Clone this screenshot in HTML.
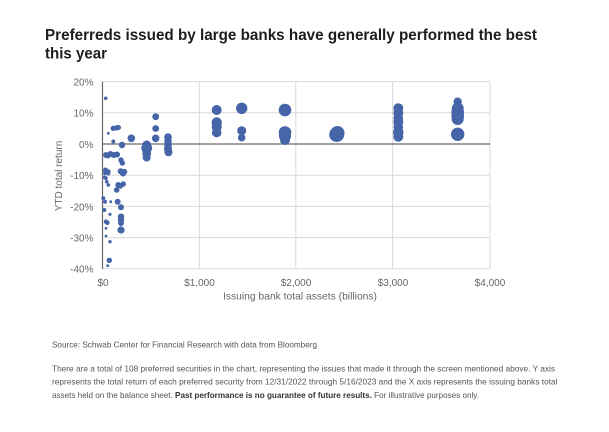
<!DOCTYPE html>
<html><head><meta charset="utf-8">
<style>
html,body{margin:0;padding:0;background:#fff;}
svg{display:block;}
text{font-family:"Liberation Sans",Arial,sans-serif;}
</style></head>
<body>
<svg width="609" height="432" viewBox="0 0 609 432" xmlns="http://www.w3.org/2000/svg">
<rect width="609" height="432" fill="#fff"/>
<!-- Title -->
<text x="45" y="40" font-size="15.5" font-weight="bold" fill="#1e1e1e" textLength="492" lengthAdjust="spacingAndGlyphs">Preferreds issued by large banks have generally performed the best</text>
<text x="45" y="58.5" font-size="15.5" font-weight="bold" fill="#1e1e1e" textLength="62" lengthAdjust="spacingAndGlyphs">this year</text>

<!-- gridlines -->
<g stroke="#d9d9d9" stroke-width="1">
<line x1="102.5" y1="81.6" x2="490" y2="81.6"/>
<line x1="102.5" y1="112.8" x2="490" y2="112.8"/>
<line x1="102.5" y1="175.2" x2="490" y2="175.2"/>
<line x1="102.5" y1="206.4" x2="490" y2="206.4"/>
<line x1="102.5" y1="237.6" x2="490" y2="237.6"/>
<line x1="102.5" y1="268.8" x2="490" y2="268.8"/>
<line x1="199.3" y1="81.6" x2="199.3" y2="268.8"/>
<line x1="295.8" y1="81.6" x2="295.8" y2="268.8"/>
<line x1="392.6" y1="81.6" x2="392.6" y2="268.8"/>
<line x1="490" y1="81.6" x2="490" y2="268.8"/>
</g>
<line x1="102.5" y1="144" x2="490" y2="144" stroke="#6a6a6a" stroke-width="1.2"/>
<line x1="102.5" y1="81.6" x2="102.5" y2="269" stroke="#6a6a6a" stroke-width="1.2"/>

<!-- y tick labels -->
<g font-size="10" fill="#666" text-anchor="end">
<text x="93.5" y="85.5">20%</text>
<text x="93.5" y="116.7">10%</text>
<text x="93.5" y="147.9">0%</text>
<text x="93.5" y="179.1">-10%</text>
<text x="93.5" y="210.3">-20%</text>
<text x="93.5" y="241.5">-30%</text>
<text x="93.5" y="272.7">-40%</text>
</g>
<!-- x tick labels -->
<g font-size="10" fill="#666" text-anchor="middle">
<text x="103" y="285.8">$0</text>
<text x="199.5" y="285.8">$1,000</text>
<text x="296" y="285.8">$2,000</text>
<text x="393" y="285.8">$3,000</text>
<text x="490" y="285.8">$4,000</text>
</g>
<text x="223" y="299.3" font-size="10" fill="#666" textLength="154" lengthAdjust="spacingAndGlyphs">Issuing bank total assets (billions)</text>
<text transform="translate(62,176) rotate(-90)" font-size="10" fill="#666" text-anchor="middle">YTD total return</text>

<!-- dots -->
<g fill="#4565a8">
<circle cx="105.7" cy="98.3" r="1.8"/>
<circle cx="113.3" cy="128.3" r="2.7"/>
<circle cx="116.7" cy="127.8" r="2.7"/>
<circle cx="118.5" cy="127.5" r="2.5"/>
<circle cx="108.3" cy="133.3" r="1.4"/>
<circle cx="113.3" cy="141.5" r="2"/>
<circle cx="122" cy="145" r="3.2"/>
<circle cx="131.3" cy="138.3" r="3.8"/>
<circle cx="155.7" cy="116.7" r="3.4"/>
<circle cx="155.7" cy="128.5" r="3.4"/>
<circle cx="155.7" cy="138.3" r="3.8"/>
<circle cx="146.7" cy="145" r="4.5"/>
<circle cx="145.7" cy="148" r="4.5"/>
<circle cx="147.7" cy="148" r="4.5"/>
<circle cx="146.7" cy="151" r="4.5"/>
<circle cx="146.7" cy="154" r="4.3"/>
<circle cx="146.7" cy="157.5" r="4"/>
<circle cx="168" cy="137" r="3.8"/>
<circle cx="168" cy="141" r="3.8"/>
<circle cx="168" cy="145" r="3.8"/>
<circle cx="168" cy="149" r="4"/>
<circle cx="168.5" cy="152.3" r="4"/>
<circle cx="106" cy="155" r="3"/>
<circle cx="110.5" cy="154" r="3"/>
<circle cx="114" cy="155" r="3"/>
<circle cx="117" cy="154.5" r="3"/>
<circle cx="108" cy="156" r="2.5"/>
<circle cx="121" cy="160" r="2.7"/>
<circle cx="122.3" cy="163" r="2.7"/>
<circle cx="105.5" cy="170" r="2.5"/>
<circle cx="108.3" cy="171.5" r="2.3"/>
<circle cx="105" cy="173" r="2"/>
<circle cx="108.3" cy="173.5" r="2"/>
<circle cx="120.7" cy="171.3" r="3"/>
<circle cx="124.5" cy="171.7" r="2.8"/>
<circle cx="123" cy="173.5" r="3"/>
<circle cx="105" cy="177.5" r="2"/>
<circle cx="106" cy="178.3" r="1.8"/>
<circle cx="106.7" cy="181.7" r="1.8"/>
<circle cx="108.3" cy="185" r="1.8"/>
<circle cx="118.3" cy="185" r="3"/>
<circle cx="123.3" cy="184" r="2.7"/>
<circle cx="120.5" cy="186" r="2.7"/>
<circle cx="116.7" cy="190" r="2.8"/>
<circle cx="103.3" cy="198.3" r="2"/>
<circle cx="105" cy="201.7" r="2"/>
<circle cx="110.7" cy="201.7" r="1.4"/>
<circle cx="117.7" cy="201.7" r="3"/>
<circle cx="121" cy="207.3" r="3"/>
<circle cx="104.3" cy="210" r="2"/>
<circle cx="110" cy="214.3" r="1.6"/>
<circle cx="121" cy="216.7" r="3.2"/>
<circle cx="121" cy="220" r="3.2"/>
<circle cx="121" cy="223" r="3"/>
<circle cx="106" cy="221.7" r="2.3"/>
<circle cx="107.3" cy="222.7" r="2.3"/>
<circle cx="106" cy="228.3" r="1.4"/>
<circle cx="121" cy="230" r="3.6"/>
<circle cx="106" cy="236" r="1.4"/>
<circle cx="110" cy="241.7" r="1.7"/>
<circle cx="109.3" cy="260.3" r="2.7"/>
<circle cx="107.7" cy="265.7" r="1.4"/>

<circle cx="216.7" cy="110" r="5"/>
<circle cx="216.7" cy="122.5" r="5.2"/>
<circle cx="216.7" cy="127" r="5"/>
<circle cx="216.7" cy="132.5" r="4.8"/>
<circle cx="241.7" cy="108.3" r="5.7"/>
<circle cx="241.7" cy="130.7" r="4.5"/>
<circle cx="241.7" cy="137.7" r="3.8"/>
<circle cx="285" cy="110" r="6.3"/>
<circle cx="285" cy="132.5" r="6.3"/>
<circle cx="285" cy="136" r="6"/>
<circle cx="285" cy="140" r="5"/>
<circle cx="336.7" cy="134.5" r="7.5"/>
<circle cx="337.5" cy="133" r="7"/>
<circle cx="398.3" cy="108.3" r="5"/>
<circle cx="398.3" cy="113" r="5"/>
<circle cx="398.3" cy="118" r="4.8"/>
<circle cx="398.3" cy="122" r="5"/>
<circle cx="398.3" cy="127" r="4.8"/>
<circle cx="398.3" cy="132.5" r="5.3"/>
<circle cx="398.3" cy="136.7" r="5"/>
<circle cx="457.7" cy="101.7" r="4.2"/>
<circle cx="457.7" cy="108.5" r="6"/>
<circle cx="457.7" cy="112" r="6.3"/>
<circle cx="457.7" cy="116" r="6.3"/>
<circle cx="457.7" cy="119" r="6"/>
<circle cx="457.7" cy="134.3" r="6.7"/>
</g>

<!-- footer text -->
<g font-size="8.2" fill="#555">
<text x="52" y="347.5" textLength="265" lengthAdjust="spacingAndGlyphs">Source: Schwab Center for Financial Research with data from Bloomberg</text>
<text x="52" y="371.3" textLength="503" lengthAdjust="spacingAndGlyphs">There are a total of 108 preferred securities in the chart, representing the issues that made it through the screen mentioned above. Y axis</text>
<text x="52" y="384.7" textLength="505.5" lengthAdjust="spacingAndGlyphs">represents the total return of each preferred security from 12/31/2022 through 5/16/2023 and the X axis represents the issuing banks total</text>
<text x="52" y="398" textLength="427" lengthAdjust="spacingAndGlyphs">assets held on the balance sheet. <tspan font-weight="bold" fill="#333">Past performance is no guarantee of future results.</tspan> For illustrative purposes only.</text>
</g>
</svg>
</body></html>
